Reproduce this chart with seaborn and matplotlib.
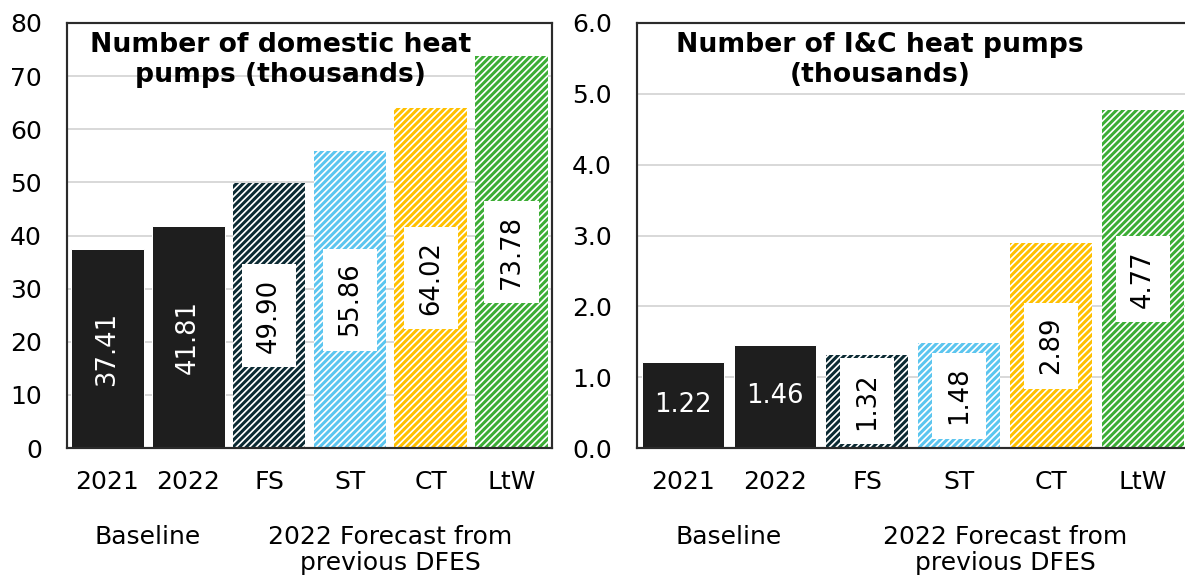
import matplotlib
matplotlib.use("Agg")
import matplotlib.pyplot as plt
import matplotlib.transforms as mtransforms
import pandas as pd
import seaborn as sns

# ---- data ----
categories = ["2021", "2022", "FS", "ST", "CT", "LtW"]
domestic_hp = [37.41, 41.81, 49.90, 55.86, 64.02, 73.78]
ic_hp = [1.22, 1.46, 1.32, 1.48, 2.89, 4.77]
domestic_yticks = [0, 10, 20, 30, 40, 50, 60, 70, 80]
ic_yticks = [0.0, 1.0, 2.0, 3.0, 4.0, 5.0, 6.0]
group_labels = ["Baseline", "2022 Forecast from\nprevious DFES"]
titles = ["Number of domestic heat\npumps (thousands)",
          "Number of I&C heat pumps\n(thousands)"]

# ---- style ----
bar_colors = ["#1e1e1e", "#1e1e1e", "#0b2a33", "#5bc5ef", "#ffc000", "#3cad35"]
hatched = [False, False, True, True, True, True]

sns.set_theme(style="white")
plt.rcParams["font.family"] = ["DejaVu Sans"]
plt.rcParams["text.color"] = "black"
plt.rcParams["hatch.linewidth"] = 1.8

DPI = 120
fig = plt.figure(figsize=(1185 / DPI, 585 / DPI), dpi=DPI)

W, H = 1185.0, 585.0
ax_left = fig.add_axes([67 / W, 1 - 448 / H, 485 / W, 425 / H])
ax_right = fig.add_axes([637 / W, 1 - 448 / H, 552 / W, 425 / H])


def fmt_tick(t, ymax):
    return f"{t:.1f}" if ymax < 10 else f"{t:.0f}"


def draw_panel(ax, values, yticks, ymax, title, rotate_baseline):
    df = pd.DataFrame({"cat": categories, "val": values})
    sns.barplot(data=df, x="cat", y="val", hue="cat", palette=bar_colors,
                legend=False, width=0.9, ax=ax, saturation=1, zorder=2)

    for patch, col, hat in zip(ax.patches, bar_colors, hatched):
        if hat:
            patch.set_facecolor("white")
            patch.set_edgecolor(col)
            patch.set_hatch("//////")
            patch.set_linewidth(0)
        else:
            patch.set_facecolor(col)
            patch.set_edgecolor("white")
            patch.set_linewidth(0.6)

    # value labels at mid-height of each bar
    for i, (v, hat) in enumerate(zip(values, hatched)):
        if hat:
            ax.text(i, v / 2, f"{v:.2f}", rotation=90, ha="center",
                    va="center", fontsize=15.5, color="black", zorder=5,
                    bbox=dict(boxstyle="square,pad=0.55", fc="white",
                              ec="none"))
        else:
            ax.text(i, v / 2, f"{v:.2f}",
                    rotation=90 if rotate_baseline else 0,
                    ha="center", va="center", fontsize=15.5, color="white",
                    zorder=5)

    ax.set_xlim(-0.5, 5.5)
    ax.set_ylim(0, ymax)
    ax.set_yticks(yticks)
    ax.set_yticklabels([fmt_tick(t, ymax) for t in yticks])
    ax.set_xlabel("")
    ax.set_ylabel("")
    ax.yaxis.grid(True, color="#d9d9d9", linewidth=1.2, zorder=0)
    ax.set_axisbelow(True)
    ax.tick_params(axis="y", length=0, pad=15, labelsize=15, colors="black")
    ax.tick_params(axis="x", length=0, pad=13, labelsize=15, colors="black")
    for sp in ax.spines.values():
        sp.set_color("#2b2b2b")
        sp.set_linewidth(1.3)
        sp.set_visible(True)

    ax.text(0.44, 0.912, title, transform=ax.transAxes, ha="center",
            va="center", fontsize=16, fontweight="bold", linespacing=1.2,
            color="black", zorder=6)

    trans = mtransforms.blended_transform_factory(ax.transData, ax.transAxes)
    ax.text(0.5, -0.18, group_labels[0], transform=trans, ha="center",
            va="top", fontsize=15, color="black")
    ax.text(3.5, -0.18, group_labels[1], transform=trans, ha="center",
            va="top", fontsize=15, linespacing=1.15, color="black")


draw_panel(ax_left, domestic_hp, domestic_yticks, 80, titles[0], True)
draw_panel(ax_right, ic_hp, ic_yticks, 6.0, titles[1], False)

fig.savefig("out.png", dpi=DPI, facecolor="white")
